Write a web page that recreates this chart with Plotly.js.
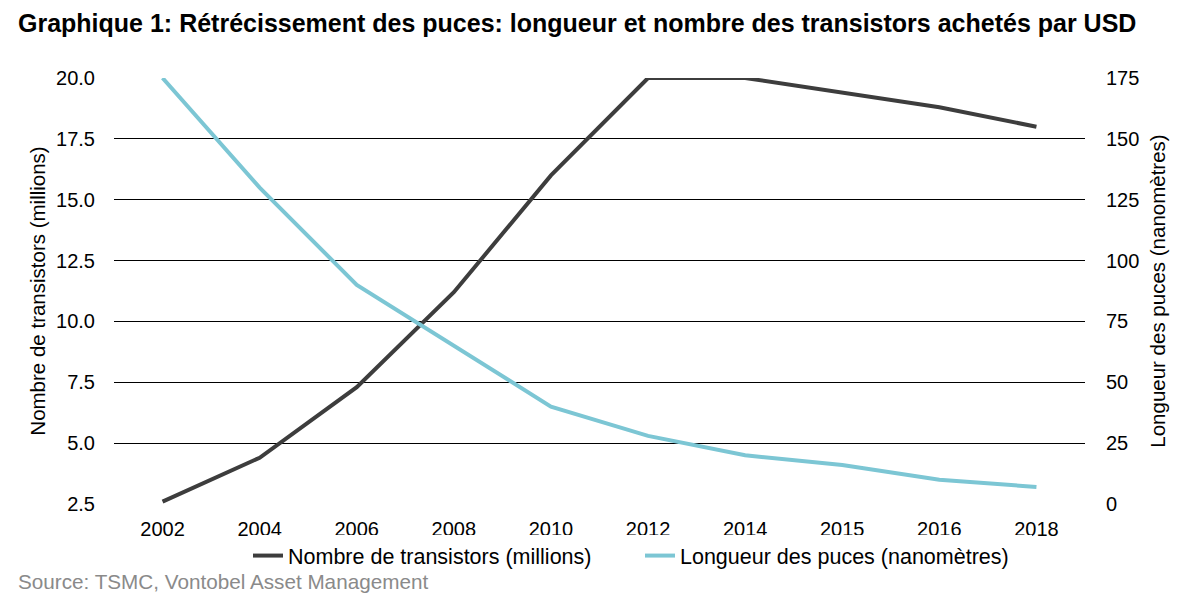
<!DOCTYPE html>
<html><head><meta charset="utf-8">
<script src="https://cdn.plot.ly/plotly-3.0.1.min.js"></script>
<style>html,body{margin:0;padding:0;background:#fff}#chart{width:1197px;height:599px}</style>
</head><body><div id="chart"></div>
<script>
const years = ['2002','2004','2006','2008','2010','2012','2014','2015','2016','2018'];
const transistors = [2.6, 4.4, 7.3, 11.2, 16.0, 20.0, 20.0, 19.4, 18.8, 18.0];
const longueur = [175, 130, 90, 65, 40, 28, 20, 16, 10, 7];
const leftTicks = [2.5, 5, 7.5, 10, 12.5, 15, 17.5, 20];
const leftTickText = ['2.5','5.0','7.5','10.0','12.5','15.0','17.5','20.0'];
const rightTicks = [0, 25, 50, 75, 100, 125, 150, 175];

const F = 'Liberation Sans, Arial, sans-serif';
const FS = 20;
const traces = [
  {x: years, y: transistors, type: 'scatter', mode: 'lines', name: 'Nombre de transistors (millions)',
   line: {color: '#3d3d3d', width: 4}, yaxis: 'y'},
  {x: years, y: longueur, type: 'scatter', mode: 'lines', name: 'Longueur des puces (nanomètres)',
   line: {color: '#7cc6d4', width: 4}, yaxis: 'y2'}
];
const layout = {
  width: 1197, height: 599,
  margin: {l: 114, r: 112, t: 78, b: 95},
  paper_bgcolor: '#fff', plot_bgcolor: '#fff',
  font: {family: F, size: FS, color: '#000'},
  showlegend: true,
  legend: {orientation: 'h', x: 0.138, xanchor: 'left', y: -0.073, yanchor: 'top',
           font: {family: F, size: 21.5, color: '#000'}, tracegroupgap: 0, entrywidth: 347},
  xaxis: {type: 'category', range: [-0.5, 9.5], tickfont: {family: F, size: FS}, showgrid: false,
          zeroline: false, showline: false, ticks: '', ticklen: 0, ticklabelstandoff: 11},
  yaxis: {range: [2.5, 20], tickvals: leftTicks, ticktext: leftTickText, showgrid: true,
          gridcolor: '#000', gridwidth: 1, zeroline: false, showline: false, ticks: '',
          tickfont: {family: F, size: FS}, ticklabelstandoff: 18,
          title: {text: 'Nombre de transistors (millions)', font: {family: F, size: 20.5}, standoff: 4}},
  yaxis2: {range: [0, 175], tickvals: rightTicks, overlaying: 'y', side: 'right', showgrid: false,
           zeroline: false, showline: false, ticks: '', tickfont: {family: F, size: FS},
           ticklabelstandoff: 20,
           title: {text: 'Longueur des puces (nanomètres)', font: {family: F, size: 20.5}, standoff: 12}},
  annotations: [
    {text: '<b>Graphique 1: Rétrécissement des puces: longueur et nombre des transistors achetés par USD</b>',
     xref: 'paper', yref: 'paper', x: (16 - 114) / 971, y: 1 + (78 - 23) / 426, xanchor: 'left', yanchor: 'middle',
     showarrow: false, font: {family: F, size: 25, color: '#000'}},
    {text: 'Source: TSMC, Vontobel Asset Management', xref: 'paper', yref: 'paper',
     x: (16 - 114) / 971, y: -(581 - 504) / 426, xanchor: 'left', yanchor: 'middle', showarrow: false,
     font: {family: F, size: 20.7, color: '#8a8a8a'}}
  ]
};
Plotly.newPlot('chart', traces, layout, {displayModeBar: false, staticPlot: true});
</script></body></html>
